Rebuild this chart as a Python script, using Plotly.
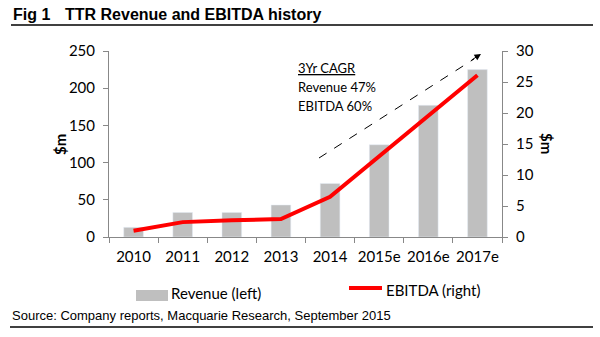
import plotly.graph_objects as go

years = ["2010", "2011", "2012", "2013", "2014", "2015e", "2016e", "2017e"]
revenue = [13, 33, 33, 43, 72, 124, 177, 225]
ebitda = [1.0, 2.4, 2.7, 2.9, 6.5, 13.0, 19.4, 26.1]
bar_color = "#BFBFBF"
line_color = "#FF0000"

# plot area in pixels
L, R, T, B = 109, 502, 51, 237
W, H = 600, 337
pw, ph = R - L, B - T

def px(x):
    return (x - L) / pw

def py(y):
    return (B - y) / ph

fig = go.Figure()
fig.add_trace(go.Bar(x=years, y=revenue, name="Revenue (left)", marker_color=bar_color,
                     width=0.4, yaxis="y"))
fig.add_trace(go.Scatter(x=years, y=ebitda, name="EBITDA (right)", mode="lines",
                         line=dict(color=line_color, width=4), yaxis="y2"))

FONT = "Lato, Open Sans, sans-serif"
axis_font = dict(family=FONT, size=15, color="#000")

fig.update_layout(
    width=W, height=H,
    margin=dict(l=L, r=W - R, t=T, b=H - B),
    paper_bgcolor="white", plot_bgcolor="white",
    showlegend=False,
    xaxis=dict(type="category", showline=True, linecolor="#888", linewidth=1,
               ticks="outside", tickson="boundaries", ticklen=5, tickcolor="#888",
               tickfont=axis_font, showgrid=False, ticklabelstandoff=6, tickangle=0),
    yaxis=dict(range=[0, 250], dtick=50, showline=True, linecolor="#888", linewidth=1,
               ticks="outside", ticklen=5, tickcolor="#888", tickfont=axis_font,
               showgrid=False, zeroline=False, ticklabelstandoff=5),
    yaxis2=dict(range=[0, 30], dtick=5, overlaying="y", side="right", showline=True,
                linecolor="#888", linewidth=1, ticks="outside", ticklen=5, tickcolor="#888",
                tickfont=axis_font, showgrid=False, zeroline=False, ticklabelstandoff=5),
)

anns = []
TF = dict(family="Liberation Sans, Arial", size=16, color="#000")
# title
anns.append(dict(text="<b>Fig 1</b>", x=px(11), y=py(15), xref="paper", yref="paper",
                 xanchor="left", yanchor="middle", showarrow=False, font=TF))
anns.append(dict(text="<b>TTR Revenue and EBITDA history</b>", x=px(63), y=py(15), xref="paper",
                 yref="paper", xanchor="left", yanchor="middle", showarrow=False, font=TF))
# axis titles
anns.append(dict(text="<b>$m</b>", x=px(60), y=py(145), xref="paper", yref="paper",
                 textangle=-90, showarrow=False, xanchor="center", yanchor="middle",
                 font=dict(family=FONT, size=15, color="#000")))
anns.append(dict(text="<b>$m</b>", x=px(547), y=py(143), xref="paper", yref="paper",
                 textangle=90, showarrow=False, xanchor="center", yanchor="middle",
                 font=dict(family=FONT, size=15, color="#000")))
# CAGR text
for txt, yy in [("<u>3Yr CAGR</u>", 68), ("Revenue 47%", 87), ("EBITDA 60%", 106)]:
    anns.append(dict(text=txt, x=px(296), y=py(yy), xref="paper", yref="paper",
                     xanchor="left", yanchor="middle", showarrow=False,
                     font=dict(family=FONT, size=13, color="#000")))
# arrow head
anns.append(dict(x=px(481), y=py(54), ax=-10.9, ay=7.0, xref="paper", yref="paper",
                 axref="pixel", ayref="pixel", text="", showarrow=True, arrowhead=2,
                 arrowsize=1.3, arrowwidth=1, arrowcolor="#000"))
# legend texts
anns.append(dict(text="Revenue (left)", x=px(169), y=py(293), xref="paper", yref="paper",
                 xanchor="left", yanchor="middle", showarrow=False,
                 font=dict(family=FONT, size=15, color="#000")))
anns.append(dict(text="EBITDA (right)", x=px(384), y=py(290), xref="paper", yref="paper",
                 xanchor="left", yanchor="middle", showarrow=False,
                 font=dict(family=FONT, size=15, color="#000")))
# source
anns.append(dict(text="Source: Company reports, Macquarie Research, September 2015", x=px(10),
                 y=py(315), xref="paper", yref="paper", xanchor="left", yanchor="middle",
                 showarrow=False,
                 font=dict(family="Liberation Sans, Arial", size=13, color="#000")))
fig.update_layout(annotations=anns)

shapes = [
    dict(type="line", xref="paper", yref="paper", x0=px(11), x1=px(593), y0=py(25), y1=py(25),
         line=dict(color="#000", width=1.3)),
    dict(type="line", xref="paper", yref="paper", x0=px(10), x1=px(593), y0=py(327), y1=py(327),
         line=dict(color="#000", width=1.3)),
    dict(type="line", xref="paper", yref="paper", x0=px(319), x1=px(474), y0=py(158), y1=py(59),
         line=dict(color="#000", width=1, dash="dash")),
    # legend swatches
    dict(type="rect", xref="paper", yref="paper", x0=px(136), x1=px(168), y0=py(290), y1=py(301),
         fillcolor=bar_color, line=dict(width=0)),
    dict(type="line", xref="paper", yref="paper", x0=px(349), x1=px(382), y0=py(288), y1=py(288),
         line=dict(color=line_color, width=4)),
]
fig.update_layout(shapes=shapes)

fig.write_html("out.html")
